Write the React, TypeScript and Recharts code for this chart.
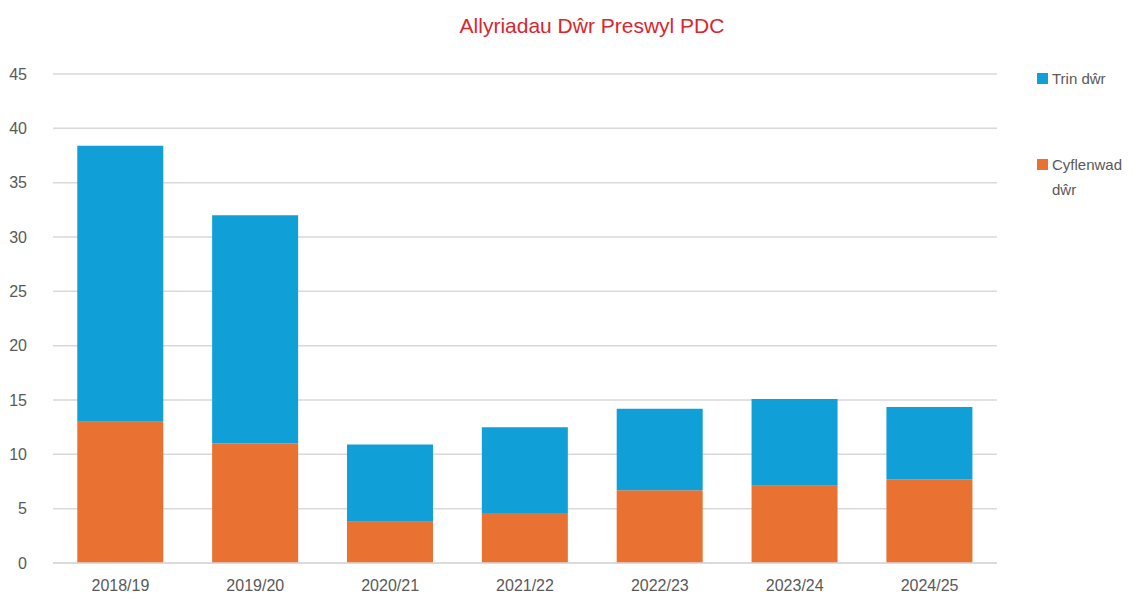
import { BarChart, Bar, XAxis, YAxis, CartesianGrid } from 'recharts';

const years = ['2018/19', '2019/20', '2020/21', '2021/22', '2022/23', '2023/24', '2024/25'];
const cyflenwad = [13.0, 11.0, 3.8, 4.6, 6.7, 7.1, 7.7];
const trin = [25.4, 21.0, 7.1, 7.9, 7.5, 8.0, 6.65];
const yTicks = [0, 5, 10, 15, 20, 25, 30, 35, 40, 45];

const data = years.map((year, i) => ({
  year,
  cyflenwad: cyflenwad[i],
  trin: trin[i],
}));

const BLUE = '#109FD6';
const ORANGE = '#E97132';
const TEXT = '#595959';

function SideLegend() {
  const item = (color: string, label: string, top: number) => (
    <div style={{ position: 'absolute', left: 0, top, display: 'flex', alignItems: 'flex-start' }}>
      <span style={{ width: 11, height: 11, background: color, marginTop: 7, marginRight: 4, flexShrink: 0 }} />
      <span style={{ width: 75, lineHeight: '25px', fontSize: 15, color: TEXT }}>{label}</span>
    </div>
  );
  return (
    <div style={{ position: 'absolute', left: 1037, top: 66, width: 100, height: 150 }}>
      {item(BLUE, 'Trin dŵr', 0)}
      {item(ORANGE, 'Cyflenwad dŵr', 86)}
    </div>
  );
}

export default function App() {
  return (
    <div style={{ position: 'absolute', left: 0, top: 0, width: 1141, height: 599, background: '#fff', fontFamily: '"Liberation Sans", Arial, sans-serif' }}>
      <div style={{ position: 'absolute', top: 14, left: 0, width: 1184, textAlign: 'center', fontSize: 21, color: '#D9262E' }}>
        Allyriadau Dŵr Preswyl PDC
      </div>
      <BarChart
        width={1141}
        height={599}
        data={data}
        margin={{ top: 74, right: 144, bottom: 6, left: 0 }}
        barCategoryGap="18%"
      >
        <CartesianGrid vertical={false} stroke="#d9d9d9" strokeWidth={1.5} />
        <XAxis
          dataKey="year"
          height={30}
          axisLine={{ stroke: '#d9d9d9', strokeWidth: 1.5 }}
          tickLine={false}
          tick={{ fill: TEXT, fontSize: 16 }}
          tickMargin={11}
        />
        <YAxis
          domain={[0, 45]}
          ticks={yTicks}
          width={53}
          axisLine={false}
          tickLine={false}
          tick={{ fill: TEXT, fontSize: 16 }}
          tickMargin={20}
        />
        <Bar dataKey="cyflenwad" stackId="a" fill={ORANGE} isAnimationActive={false} />
        <Bar dataKey="trin" stackId="a" fill={BLUE} isAnimationActive={false} />
      </BarChart>
      <SideLegend />
    </div>
  );
}
